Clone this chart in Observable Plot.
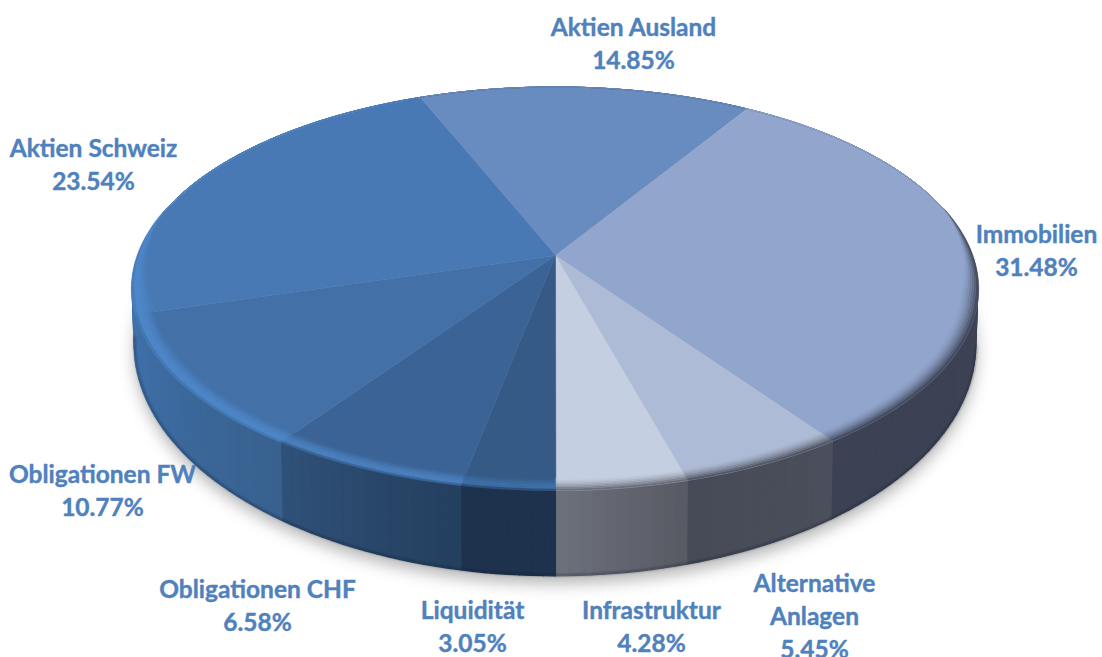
<!DOCTYPE html>
<html>
<head>
<meta charset="utf-8">
<script src="https://cdn.jsdelivr.net/npm/d3@7"></script>
<script src="https://cdn.jsdelivr.net/npm/@observablehq/plot@0.6"></script>
<style>html,body{margin:0;padding:0;background:#fff;overflow:hidden}svg{display:block}</style>
</head>
<body>
<div id="chart"></div>
<script>
// Data
const categories = ["Aktien Ausland","Immobilien","Alternative\nAnlagen","Infrastruktur","Liquidität","Obligationen CHF","Obligationen FW","Aktien Schweiz"];
const shares = [14.85,31.48,5.45,4.28,3.05,6.58,10.77,23.54];
// Colours
const topColors  = ["#688cc0","#92a6cd","#aebbd6","#c5cfe2","#345a85","#3b6395","#4470a8","#4879b4"];
const sideStart  = ["#3e4455","#3e4455","#4b4f5b","#585a64","#1e324d","#24405f","#38618f","#3f70a9"];
const sideEnd    = ["#3e4455","#3c4253","#464b57","#6c707a","#1e324d","#2f5078","#3f70a9","#4173ad"];
const rimLight   = [null,null,null,null,"#3f70a8","#4c82c0","#4e88ca","#4e88ca"];
// Label placement (page layout)
const labelX = [633,1036,814,651,472,257,102,93];
const labelY = [41,248,614,624,624,603,488,162];

// Perspective of the disc
const cx=555, cy=255, A=417, B=196, p=0.166, y0=306, B2=225, s=0.995, rot=31.6;
const rad=d=>d*Math.PI/180;
function topPt(a,r=1){const u=r*Math.sin(rad(a)),v=-r*Math.cos(rad(a)),w=1-p*v;return [cx+A*u/w,cy+B*v/w];}
function botPt(a){const u=Math.sin(rad(a)),v=-Math.cos(rad(a)),w=1-p*v;return [cx+s*A*u/w,y0+B2*v/w];}
function bevel(a){const v=-Math.cos(rad(a));return 0.042*Math.max(0,Math.min(1,(v+0.25)/0.45));}

const total=d3.sum(shares);
let acc=rot-shares[0]/total*360;
const slices=shares.map((q,i)=>{const a0=acc,a1=acc+q/total*360;acc=a1;return {i,a0,a1};});
const angles=(a0,a1,step)=>{const n=Math.max(1,Math.ceil((a1-a0)/step));return d3.range(n+1).map(k=>a0+(a1-a0)*k/n);};

// Wedges of the top face
const wedges=slices.flatMap(({i,a0,a1})=>[[cx,cy],...angles(a0,a1,1).map(a=>topPt(a))].map(([x,y])=>({x,y,id:i,color:topColors[i]})));

// Side wall (front part only)
const wall=slices.flatMap(({i,a0,a1})=>{
  const ks=angles(a0,a1,1.5), col=d3.interpolateRgb(sideStart[i],sideEnd[i]);
  return d3.range(ks.length-1).flatMap(k=>{
    const mid=(ks[k]+ks[k+1])/2;
    if(-Math.cos(rad(mid))<0.02) return [];
    return [ks[k],ks[k+1]].map(a=>{const t=topPt(a),b=botPt(a);
      return {x1:t[0],y1:t[1],x2:b[0],y2:b[1],id:i+"-"+k,color:d3.rgb(col(k/(ks.length-2||1))).formatHex()};});
  });
});

// Bevel rings between top face and wall (t runs from the face, 0, to the wall, 1)
const nRings=8;
const rings=slices.flatMap(({i,a0,a1})=>d3.range(nRings).flatMap(j=>{
  const t=1-(j+0.5)/nRings, side=d3.interpolateRgb(sideStart[i],sideEnd[i])(0.5);
  let c;
  if(rimLight[i]){
    c=t<0.8?d3.interpolateRgb(topColors[i],rimLight[i])(Math.sin(t/0.8*Math.PI/2)):d3.interpolateRgb(rimLight[i],side)((t-0.8)/0.2*0.75);
  } else {
    c=d3.interpolateRgb(topColors[i],side)(Math.pow(t,1.6));
  }
  const color=d3.rgb(c).formatHex();
  return angles(a0,a1,1.5).map(a=>{const b=bevel(a),o=topPt(a,1-b*j/nRings+(j===0&&b>0?0.002:0)),n=topPt(a,1-b*(j+1)/nRings);
    return {x1:o[0],y1:o[1],x2:n[0],y2:n[1],id:i+"-"+j,color};});
}));

// Floor shadow and lower edge
const outline=angles(0,360,2).map(a=>{const b=botPt(a);return {x:b[0],y:b[1]+7};});
const edge=angles(100,262,2).map(a=>{const b=botPt(a);return {x:b[0],y:b[1]-1};});

const labels=categories.map((c,i)=>({x:labelX[i],y:labelY[i],text:c+"\n"+shares[i].toFixed(2)+"%"}));

const chart=Plot.plot({
  width:1102,height:657,margin:0,
  x:{domain:[0,1102],range:[0,1102],axis:null},
  y:{domain:[0,657],range:[0,657],axis:null},
  color:{type:"identity"},
  style:{background:"#fff"},
  marks:[
    Plot.line(outline,{x:"x",y:"y",fill:"#000",fillOpacity:0.30,imageFilter:"blur(8px)"}),
    Plot.area(wall,{x1:"x1",y1:"y1",x2:"x2",y2:"y2",z:"id",fill:"color",stroke:"color",strokeWidth:1.3}),
    Plot.line(edge,{x:"x",y:"y",stroke:"#101c30",strokeOpacity:0.4,strokeWidth:2,imageFilter:"blur(1px)"}),
    Plot.line(wedges,{x:"x",y:"y",z:"id",fill:"color",stroke:"color",strokeWidth:0.5}),
    Plot.area(rings,{x1:"x1",y1:"y1",x2:"x2",y2:"y2",z:"id",fill:"color",stroke:"color",strokeWidth:0.4}),
    Plot.text(labels,{x:"x",y:"y",text:"text",fill:"#4f81bd",fontFamily:"Lato",fontWeight:700,fontSize:24.5,lineHeight:1.345,textAnchor:"middle",stroke:"#4f81bd",strokeWidth:0.4})
  ]
});
document.getElementById("chart").append(chart);
</script>
</body>
</html>
